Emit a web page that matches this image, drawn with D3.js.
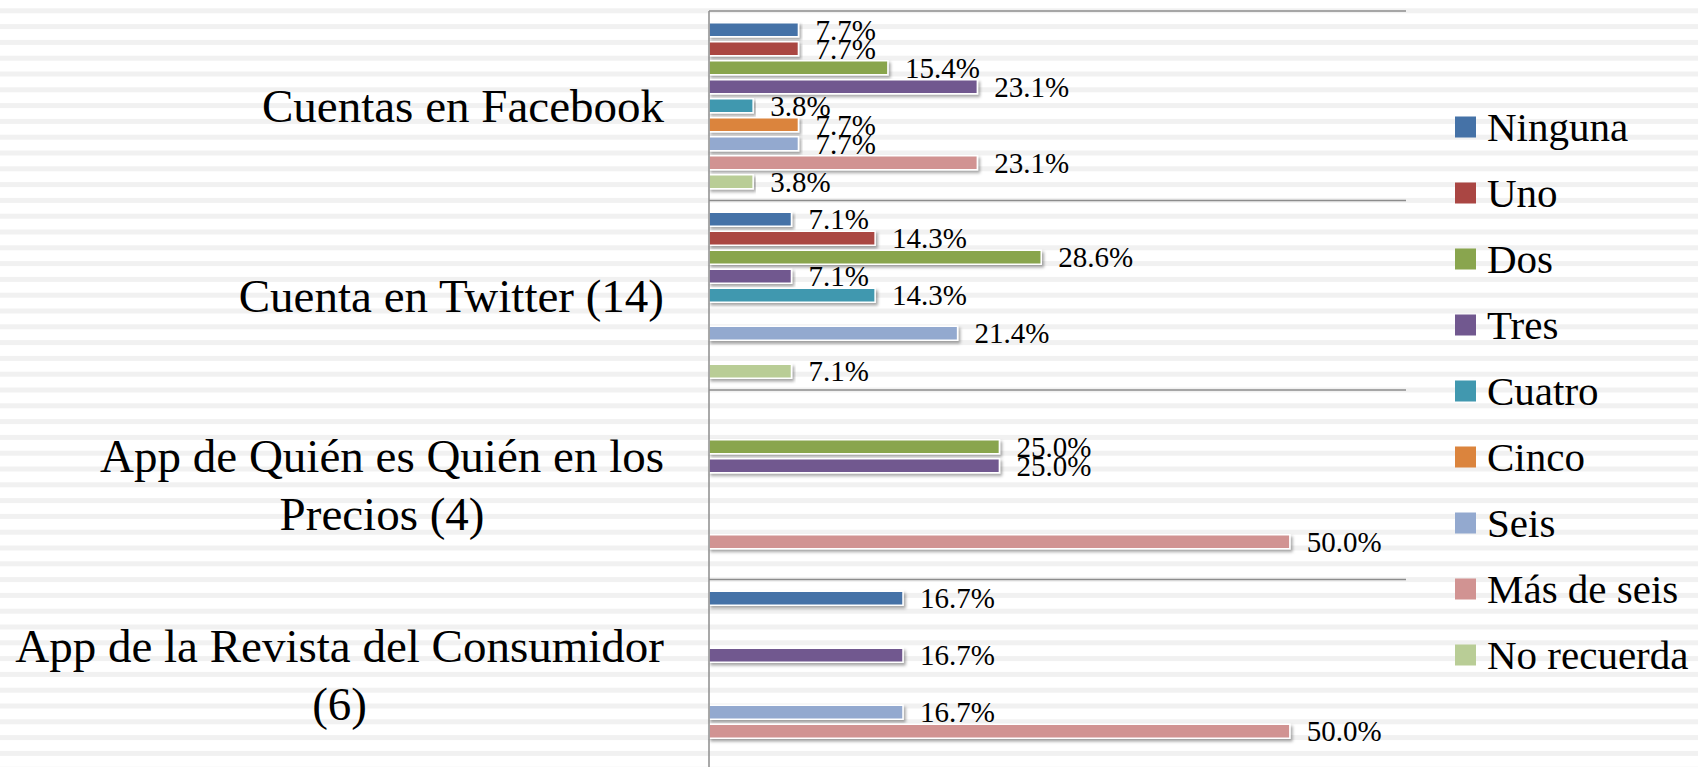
<!DOCTYPE html>
<html>
<head>
<meta charset="utf-8">
<script src="https://cdn.jsdelivr.net/npm/d3@7"></script>
<style>
  body { margin: 0; background: #fff; }
  svg { display: block; }
  text { font-family: "Liberation Serif", "Times New Roman", serif; fill: #000; }
</style>
</head>
<body>
<svg id="chart"></svg>
<script>
// Values (percent of respondents)
const categories = [
    "Cuentas en Facebook",
    "Cuenta en Twitter (14)",
    "App de Quién es Quién en los|Precios (4)",
    "App de la Revista del Consumidor|(6)"
];
const series = ["Ninguna", "Uno", "Dos", "Tres", "Cuatro", "Cinco", "Seis", "Más de seis", "No recuerda"];
const colors = ["#4572A7", "#AA4643", "#89A54E", "#71588F", "#4198AF", "#DB843D", "#93A9CF", "#D19392", "#B9CD96"];

// one array per category, in series order (null = no bar)
const facebook = [7.7, 7.7, 15.4, 23.1, 3.8, 7.7, 7.7, 23.1, 3.8];
const twitter  = [7.1, 14.3, 28.6, 7.1, 14.3, null, 21.4, null, 7.1];
const quien    = [null, null, 25.0, 25.0, null, null, null, 50.0, null];
const revista  = [16.7, null, null, 16.7, null, null, 16.7, 50.0, null];
const values = [facebook, twitter, quien, revista];

const width = 1698, height = 767;
const plot = { left: 709, right: 1406, top: 11, groupH: 189.5 };

const svg = d3.select("#chart").attr("width", width).attr("height", height);

// striped slide background
svg.append("g").selectAll("rect")
    .data(d3.range(8.3, height, 15.8))
    .enter().append("rect")
    .attr("x", 0).attr("y", d => d)
    .attr("width", width).attr("height", 5)
    .attr("fill", "#f1f1f1");

const defs = svg.append("defs");
const shadow = defs.append("filter").attr("id", "shadow")
    .attr("x", "-5%").attr("y", "-30%").attr("width", "110%").attr("height", "180%");
shadow.append("feDropShadow")
    .attr("dx", 2).attr("dy", 2.5).attr("stdDeviation", 1.5)
    .attr("flood-color", "#000").attr("flood-opacity", 0.35);

const x = d3.scaleLinear().domain([0, 60]).range([plot.left, plot.right]);
const y = d3.scaleBand().domain(categories)
    .range([plot.top, plot.top + plot.groupH * categories.length]);
const sub = d3.scaleBand().domain(series).range([0, y.bandwidth()]).paddingOuter(0.487);
const barH = sub.bandwidth() - 5;

// group separators (category gridlines)
svg.append("g").selectAll("line")
    .data(categories)
    .enter().append("line")
    .attr("x1", plot.left).attr("x2", plot.right)
    .attr("y1", d => y(d)).attr("y2", d => y(d))
    .attr("stroke", "#8c8c8c").attr("stroke-width", 1.5);

// bars
const flat = [];
values.forEach((row, ci) => row.forEach((v, si) => {
    if (v != null) flat.push({ cat: categories[ci], ser: series[si], color: colors[si], v: v });
}));

const bars = svg.append("g");
bars.selectAll("rect")
    .data(flat)
    .enter().append("rect")
    .attr("x", x(0))
    .attr("y", d => y(d.cat) + sub(d.ser) + (sub.bandwidth() - barH) / 2)
    .attr("width", d => x(d.v) - x(0))
    .attr("height", barH)
    .attr("fill", d => d.color)
    .attr("stroke", "#fff")
    .attr("stroke-width", 1.5)
    .attr("filter", "url(#shadow)");

// value labels
const fmt = d3.format(".1f");
svg.append("g").selectAll("text")
    .data(flat)
    .enter().append("text")
    .attr("x", d => x(d.v) + 17)
    .attr("y", d => y(d.cat) + sub(d.ser) + sub.bandwidth() / 2)
    .attr("dy", "0.35em")
    .attr("font-size", 29)
    .text(d => fmt(d.v) + "%");

// value axis line
svg.append("line")
    .attr("x1", plot.left).attr("x2", plot.left)
    .attr("y1", plot.top).attr("y2", height)
    .attr("stroke", "#8c8c8c").attr("stroke-width", 1.5);

// category labels, wrapped lines centred within a right-aligned block
const labelRight = 664, lineH = 58;
categories.forEach(c => {
    const lines = c.split("|");
    const g = svg.append("g");
    const cy = y(c) + y.bandwidth() / 2;
    const texts = g.selectAll("text")
        .data(lines)
        .enter().append("text")
        .attr("font-size", 47)
        .attr("text-anchor", "middle")
        .attr("y", (d, i) => cy + (i - (lines.length - 1) / 2) * lineH)
        .attr("dy", "0.35em")
        .text(d => d);
    const maxW = d3.max(texts.nodes(), n => n.getComputedTextLength());
    texts.attr("x", labelRight - maxW / 2);
});

// legend
const legendY = d3.scaleLinear().domain([0, 1]).range([127, 193]);
const legend = svg.append("g").selectAll("g")
    .data(series)
    .enter().append("g")
    .attr("transform", (d, i) => `translate(1455,${legendY(i)})`);
legend.append("rect")
    .attr("x", 0).attr("y", -10.5)
    .attr("width", 21).attr("height", 21)
    .attr("fill", (d, i) => colors[i]);
legend.append("text")
    .attr("x", 32).attr("dy", "0.35em")
    .attr("font-size", 41)
    .text(d => d);
</script>
</body>
</html>
